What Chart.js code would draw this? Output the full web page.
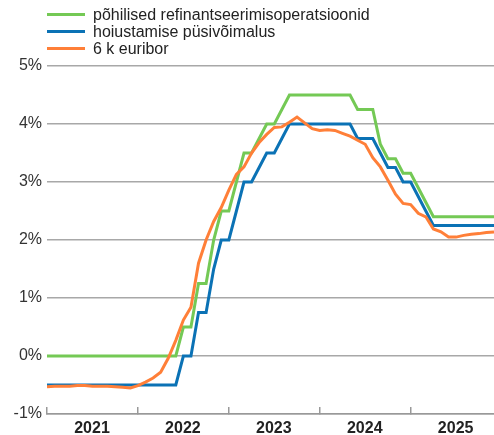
<!DOCTYPE html>
<html lang="et">
<head>
<meta charset="UTF-8" />
<title>EKP intressimäärad ja 6 k euribor</title>
<style>
  body { margin: 0; background: #fff; font-family: "Liberation Sans", Arial, sans-serif; }
  .wrap { position: relative; width: 494px; height: 435px; }
  #legend { position: absolute; left: 47px; top: 6px; margin: 0; padding: 0; list-style: none; }
  #legend li { display: flex; align-items: center; height: 17px; font-size: 16px; color: #222; white-space: nowrap; }
  #legend li span { display: inline-block; width: 38px; height: 3px; margin-right: 8px; }
</style>
</head>
<body>
<div class="wrap">
  <canvas id="chart" width="494" height="435" style="width:494px;height:435px"></canvas>
  <ul id="legend"></ul>
</div>
<script src="https://cdn.jsdelivr.net/npm/chart.js@4.4.1/dist/chart.umd.min.js"></script>
<script>
  // monthly values, Jan 2021 .. Dec 2025 (month index 0..59)
  var years = ["2021", "2022", "2023", "2024", "2025"];

  var refi = [
    0, 0, 0, 0, 0, 0, 0, 0, 0, 0, 0, 0,
    0, 0, 0, 0, 0, 0, 0.5, 0.5, 1.25, 1.25, 2.0, 2.5,
    2.5, 3.0, 3.5, 3.5, 3.75, 4.0, 4.0, 4.25, 4.5, 4.5, 4.5, 4.5,
    4.5, 4.5, 4.5, 4.5, 4.5, 4.25, 4.25, 4.25, 3.65, 3.4, 3.4, 3.15,
    3.15, 2.9, 2.65, 2.4, 2.4, 2.4, 2.4, 2.4, 2.4, 2.4, 2.4, 2.4
  ];

  var deposit = [
    -0.5, -0.5, -0.5, -0.5, -0.5, -0.5, -0.5, -0.5, -0.5, -0.5, -0.5, -0.5,
    -0.5, -0.5, -0.5, -0.5, -0.5, -0.5, 0, 0, 0.75, 0.75, 1.5, 2.0,
    2.0, 2.5, 3.0, 3.0, 3.25, 3.5, 3.5, 3.75, 4.0, 4.0, 4.0, 4.0,
    4.0, 4.0, 4.0, 4.0, 4.0, 3.75, 3.75, 3.75, 3.5, 3.25, 3.25, 3.0,
    3.0, 2.75, 2.5, 2.25, 2.25, 2.25, 2.25, 2.25, 2.25, 2.25, 2.25, 2.25
  ];

  var euribor6m = [
    -0.53, -0.52, -0.52, -0.52, -0.51, -0.51, -0.52, -0.52, -0.52, -0.53, -0.54, -0.55,
    -0.51, -0.45, -0.38, -0.28, -0.04, 0.27, 0.62, 0.84, 1.60, 2.00, 2.32, 2.56,
    2.86, 3.13, 3.26, 3.50, 3.68, 3.82, 3.94, 3.95, 4.03, 4.12, 4.02, 3.92,
    3.89, 3.90, 3.89, 3.84, 3.79, 3.72, 3.65, 3.42, 3.26, 3.03, 2.79, 2.63,
    2.61, 2.46, 2.40, 2.19, 2.14, 2.05, 2.05, 2.08, 2.10, 2.11, 2.13, 2.14
  ];

  var monthIdx = refi.map(function (v, i) { return i; });

  Chart.defaults.font.family = '"Liberation Sans", Arial, sans-serif';

  var chart = new Chart(document.getElementById("chart"), {
    type: "line",
    data: {
      labels: monthIdx,
      datasets: [
        { label: "põhilised refinantseerimisoperatsioonid", data: refi, borderColor: "#74c955", order: 3 },
        { label: "hoiustamise püsivõimalus", data: deposit, borderColor: "#0b72b5", order: 2 },
        { label: "6 k euribor", data: euribor6m, borderColor: "#ff7f38", order: 1 }
      ]
    },
    options: {
      responsive: false,
      animation: false,
      layout: { padding: { top: 66 } },
      plugins: { legend: { display: false }, tooltip: { enabled: false } },
      elements: {
        point: { radius: 0 },
        line: { tension: 0, borderWidth: 3, fill: false }
      },
      scales: {
        x: {
          type: "linear",
          min: 0,
          max: monthIdx.length - 1,
          // tick marks only at year starts, labels shifted to mid-year
          afterBuildTicks: function (s) {
            s.ticks = years.map(function (y, i) { return { value: i * 12 }; });
          },
          afterFit: function (s) { s.height = 21; },
          grid: { drawOnChartArea: false, drawTicks: true, tickLength: -7, color: "#999", lineWidth: 1.5 },
          border: { display: true, color: "#999", width: 1.5 },
          ticks: {
            labelOffset: 45,
            padding: 12,
            maxRotation: 0,
            autoSkip: false,
            color: "#222",
            font: { size: 16, weight: "bold" },
            callback: function (v) { return years[v / 12]; }
          }
        },
        y: {
          min: -1,
          max: 5,
          afterFit: function (s) { s.width = 47; },
          grid: { color: "#a8a8a8", lineWidth: 1.5, drawTicks: false },
          border: { display: false },
          ticks: {
            stepSize: 1,
            padding: 5,
            color: "#333",
            font: { size: 16 },
            callback: function (v) { return v + "%"; }
          }
        }
      }
    }
  });

  // legend in html, one row per series
  var ul = document.getElementById("legend");
  chart.data.datasets.forEach(function (ds) {
    var li = document.createElement("li");
    var sw = document.createElement("span");
    sw.style.background = ds.borderColor;
    li.appendChild(sw);
    li.appendChild(document.createTextNode(ds.label));
    ul.appendChild(li);
  });
</script>
</body>
</html>
